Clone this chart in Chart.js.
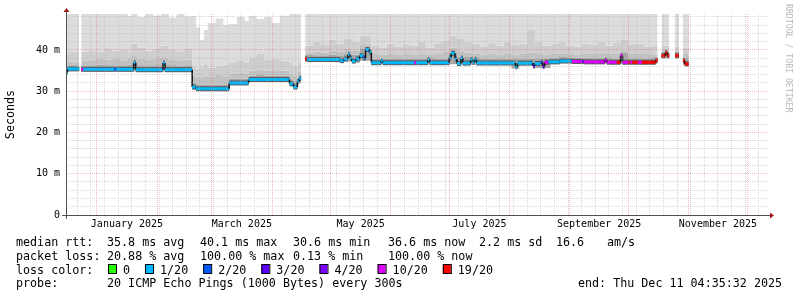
<!DOCTYPE html>
<html>
<head>
<meta charset="utf-8">
<script src="https://cdn.jsdelivr.net/npm/chart.js@4.4.1/dist/chart.umd.min.js"></script>
<style>
html, body { margin: 0; padding: 0; background: #fff; }
#chart { display: block; }
</style>
</head>
<body>
<canvas id="chart" width="797" height="297"></canvas>
<script>
// smoke (ms): each value holds from its date until the next date, null = no data
const smokeDates = [
  '2024-12-16','2024-12-17','2024-12-23','2024-12-24','2024-12-28','2025-01-01','2025-01-05','2025-01-09',
  '2025-01-13','2025-01-17','2025-01-19','2025-01-22','2025-01-26','2025-01-30','2025-02-03','2025-02-07',
  '2025-02-11','2025-02-15','2025-02-19','2025-02-21','2025-02-23','2025-02-25','2025-02-27','2025-03-03',
  '2025-03-07','2025-03-10','2025-03-14','2025-03-18','2025-03-20','2025-03-24','2025-03-28','2025-04-01',
  '2025-04-05','2025-04-10','2025-04-12','2025-04-14','2025-04-16','2025-04-18','2025-04-22','2025-04-26',
  '2025-04-30','2025-05-04','2025-05-08','2025-05-12','2025-05-16','2025-05-22','2025-05-26','2025-05-30',
  '2025-06-03','2025-06-07','2025-06-11','2025-06-15','2025-06-19','2025-06-23','2025-06-27','2025-07-01',
  '2025-07-05','2025-07-09','2025-07-13','2025-07-17','2025-07-21','2025-07-25','2025-07-29','2025-08-02',
  '2025-08-06','2025-08-10','2025-08-14','2025-08-18','2025-08-22','2025-08-26','2025-08-30','2025-09-03',
  '2025-09-07','2025-09-11','2025-09-15','2025-09-19','2025-09-23','2025-09-27','2025-10-01','2025-10-05',
  '2025-10-09','2025-10-13','2025-10-16','2025-10-18','2025-10-22','2025-10-25','2025-10-27','2025-10-29',
  '2025-11-01'
];
const smokeMin = [
  34.3,34.9,null,34.8,34.8,34.8,34.8,34.8, 34.8,34.8,34.8,34.7,34.7,34.7,34.7,34.7,
  34.7,34.7,30.4,30.1,30.1,30.1,30.1,30.1, 30.1,31.5,31.5,31.5,32.3,32.3,32.3,32.3,
  32.3,31.3,30.5,31.9,null,37.3,37.2,37.2, 37.2,37.0,37.2,36.9,37.4,36.4,36.4,36.4,
  36.4,36.4,36.4,36.4,36.4,36.4,36.4,36.5, 36.3,36.4,36.4,36.4,36.4,36.4,36.4,35.5,
  36.4,36.4,35.6,35.6,36.6,36.8,36.8,36.7, 36.6,36.6,36.6,36.6,36.6,36.6,36.6,36.6,
  36.6,36.6,null,38.0,null,38.0,null,36.2, null
];
const smokeMid = [
  35.8,36.3,null,36.3,36.3,36.4,36.3,36.3, 36.3,36.4,36.8,36.3,36.3,36.3,36.5,36.3,
  36.2,36.3,31.9,31.6,31.6,31.7,31.6,31.6, 31.7,33.0,33.0,33.0,33.8,33.9,33.8,33.8,
  33.8,32.9,32.2,33.4,null,38.8,38.7,38.7, 38.8,38.7,39.2,38.8,40.4,37.9,37.9,37.9,
  37.8,37.9,37.8,37.9,38.2,37.9,37.9,39.4, 38.4,38.3,38.2,37.8,37.9,37.8,37.9,37.8,
  37.9,37.9,37.8,38.0,38.1,38.3,38.2,38.1, 38.1,38.0,38.1,38.2,38.0,39.3,38.0,38.0,
  38.0,38.2,null,39.6,null,39.6,null,38.2, null
];
const smokeInner = [
  36.8,37.2,null,37.5,37.6,37.8,37.6,37.8, 37.5,37.9,38.5,37.8,37.6,37.8,38.2,37.6,
  37.5,37.6,33.6,33.5,33.4,33.8,33.5,33.9, 33.6,34.2,34.5,34.3,35.0,35.2,35.0,35.1,
  35.0,34.2,33.8,34.8,null,39.4,39.6,39.3, 39.8,39.5,40.2,39.8,41.2,39.0,38.8,39.2,
  38.8,39.0,38.9,39.2,38.8,39.0,39.5,40.5, 39.8,39.3,39.0,38.8,39.2,38.9,39.0,38.8,
  39.0,39.3,39.0,38.8,39.0,39.2,39.0,38.9, 39.2,39.0,39.3,39.0,39.2,39.8,39.0,39.2,
  39.0,38.9,null,40.0,null,39.8,null,39.0, null
];
const smokeUpper = [
  38.8,39.5,null,39.6,39.9,39.5,40.2,39.8, 40.0,39.6,41.5,40.6,39.8,40.3,41.0,40.0,
  39.7,40.2,36.0,35.5,35.8,36.5,35.6,36.2, 36.4,37.0,37.5,36.9,38.2,39.0,37.6,38.0,
  37.4,36.8,36.0,37.0,null,41.0,42.0,41.2, 42.5,41.5,42.8,42.0,43.5,41.0,40.6,41.5,
  40.8,41.2,41.0,42.0,40.6,41.6,42.3,43.5, 42.8,42.0,41.5,40.8,41.8,41.0,42.0,41.2,
  41.5,45.0,42.0,41.0,41.5,42.0,41.0,40.8, 41.5,41.2,42.0,41.0,41.8,42.5,41.2,41.5,
  40.8,41.0,null,41.0,null,40.8,null,40.5, null
];
const smokeMax = [
  48.7,48.7,null,48.7,48.7,48.7,48.7,48.7, 48.7,48.2,48.7,48.0,48.7,48.3,48.7,47.8,
  48.7,48.1,48.2,45.5,42.4,44.8,46.5,47.6, 46.0,46.3,48.0,47.0,48.2,47.5,48.0,46.5,
  48.3,48.7,48.7,48.7,null,48.7,48.7,48.7, 48.7,48.7,48.7,48.7,48.7,48.7,48.7,48.7,
  48.7,48.7,48.7,48.7,48.7,48.7,48.7,48.7, 48.7,48.7,48.7,48.7,48.7,48.7,48.7,48.7,
  48.7,48.7,48.7,48.7,48.7,48.7,48.7,48.7, 48.7,48.7,48.7,48.7,48.7,48.7,48.7,48.7,
  48.7,48.7,null,48.7,null,48.7,null,48.7, null
];

// median rtt (ms) and lost pings out of 20, held until the next date
const medianDates = [
  '2024-12-16','2024-12-17','2024-12-23','2024-12-24','2024-12-25','2025-01-10','2025-01-11','2025-01-20',
  '2025-01-21','2025-02-04','2025-02-05','2025-02-19','2025-02-21','2025-03-10','2025-03-20','2025-04-10',
  '2025-04-12','2025-04-14','2025-04-15','2025-04-16','2025-04-18','2025-04-19','2025-05-06','2025-05-08',
  '2025-05-10','2025-05-11','2025-05-12','2025-05-14','2025-05-16','2025-05-18','2025-05-19','2025-05-21',
  '2025-05-22','2025-05-27','2025-05-28','2025-06-13','2025-06-14','2025-06-20','2025-06-21','2025-07-01',
  '2025-07-02','2025-07-04','2025-07-05','2025-07-07','2025-07-08','2025-07-12','2025-07-13','2025-07-14',
  '2025-07-15','2025-08-04','2025-08-05','2025-08-13','2025-08-14','2025-08-17','2025-08-18','2025-08-19',
  '2025-08-21','2025-08-27','2025-09-02','2025-09-07','2025-09-08','2025-09-19','2025-09-20','2025-09-25',
  '2025-09-27','2025-09-28','2025-10-01','2025-10-02','2025-10-03','2025-10-06','2025-10-08','2025-10-15',
  '2025-10-16','2025-10-18','2025-10-20','2025-10-21','2025-10-22','2025-10-25','2025-10-27','2025-10-29',
  '2025-10-30','2025-11-01'
];
const medianRtt = [
  34.6,35.4,null,35.3,35.3,35.3,35.3,36.9, 35.2,36.8,35.2,31.0,30.6,32.0,32.8,31.8,
  31.0,32.4,33.1,null,37.8,37.7,37.4,37.8, 38.9,37.9,37.3,37.8,38.6,38.0,40.1,39.4,
  36.9,37.3,36.9,36.9,36.9,37.6,36.9,38.2, 39.2,37.8,36.7,38.0,36.8,37.6,37.0,37.7,
  36.8,35.9,36.8,36.1,36.7,37.0,36.0,37.0, 37.1,37.3,37.2,37.2,37.1,37.5,37.0,37.0,
  38.6,37.0,37.0,37.0,37.0,37.0,37.0,37.5, null,38.6,39.3,38.6,null,38.6,null,37.4,
  36.6,null
];
const medianLoss = [
  1,1,null,10,1,2,1,1, 1,1,1,1,1,1,1,1,
  1,1,1,null,19,1,1,1, 1,1,1,1,1,2,1,1,
  1,1,1,10,1,1,1,1, 1,1,1,1,1,1,1,1,
  1,1,1,3,1,2,3,10, 1,1,10,3,10,10,10,19,
  10,10,19,10,19,10,19,19, null,19,19,19,null,19,null,19,
  19,null
];

const lossSteps = [0, 1, 2, 3, 4, 10, 19];
const lossLabels = ['0', '1/20', '2/20', '3/20', '4/20', '10/20', '19/20'];
const lossColors = ['#26ff00', '#00b8ff', '#0059ff', '#5e00ff', '#7e00ff', '#dd00ff', '#ff0000'];

const monthLabelMonths = ['2025-01', '2025-03', '2025-05', '2025-07', '2025-09', '2025-11'];
const monthLabels = ['January 2025', 'March 2025', 'May 2025', 'July 2025', 'September 2025', 'November 2025'];
const yLabelValues = [0, 10, 20, 30, 40];
const yLabels = ['0', '10 m', '20 m', '30 m', '40 m'];

const rttStats = ['35.8 ms avg', '40.1 ms max', '30.6 ms min', '36.6 ms now', '2.2 ms sd', '16.6', 'am/s'];
const lossStats = ['20.88 % avg', '100.00 % max', '0.13 % min', '100.00 % now'];
const probeText = '20 ICMP Echo Pings (1000 Bytes) every 300s';
const endText = 'end: Thu Dec 11 04:35:32 2025';

const tStart = Date.UTC(2024, 11, 16, 4, 35, 32);
const tEnd = Date.UTC(2025, 11, 11, 4, 35, 32);
const DAY = 86400000;
const MONO = '"DejaVu Sans Mono", "Liberation Mono", monospace';
const GRID_MINOR = 'rgba(170, 170, 170, 0.45)';
const GRID_MAJOR = 'rgba(220, 90, 90, 0.4)';

const toTime = d => Date.parse(d + 'T00:00:00Z');

// turn "value holds until next date" into points for the line
function stepPoints(dates, values) {
  const pts = [];
  dates.forEach((d, i) => {
    const y = values[i];
    pts.push({ x: toTime(d), y: y, k: i });
    if (y !== null && i + 1 < dates.length) pts.push({ x: toTime(dates[i + 1]), y: y, k: i });
  });
  return pts;
}

const medianPts = stepPoints(medianDates, medianRtt);
const isFlat = c => medianPts[c.p0DataIndex].k === medianPts[c.p1DataIndex].k;
const lossColor = c => lossColors[lossSteps.indexOf(medianLoss[medianPts[c.p0DataIndex].k])];

// grid: weekly (sundays) and month starts
const gridTimes = [];
for (let t = Date.UTC(2024, 11, 22); t < tEnd; t += 7 * DAY) gridTimes.push(t);
for (let m = 0; m < 12; m++) {
  const t = Date.UTC(2025, m, 1);
  if (gridTimes.indexOf(t) < 0) gridTimes.push(t);
}
gridTimes.sort((a, b) => a - b);
const isMonthStart = v => new Date(v).getUTCDate() === 1 && new Date(v).getUTCHours() === 0;

const labelTimes = monthLabelMonths.map(m => {
  const a = toTime(m + '-01');
  const d = new Date(a);
  const b = Date.UTC(d.getUTCFullYear(), d.getUTCMonth() + 1, 1);
  return (a + b) / 2;
});

function smokeLayer(values, color, fill, order) {
  return {
    data: stepPoints(smokeDates, values),
    borderWidth: 0,
    borderColor: 'rgba(0,0,0,0)',
    backgroundColor: color,
    fill: fill,
    pointRadius: 0,
    order: order
  };
}

const decorations = {
  id: 'decorations',
  afterDraw(chart) {
    const { ctx, chartArea: a } = chart;
    ctx.save();
    // axes
    ctx.strokeStyle = '#505050';
    ctx.lineWidth = 1;
    ctx.beginPath();
    ctx.moveTo(a.left - 4, a.bottom + 0.5);
    ctx.lineTo(a.right + 4, a.bottom + 0.5);
    ctx.moveTo(a.left + 0.5, a.bottom + 4);
    ctx.lineTo(a.left + 0.5, a.top - 4);
    ctx.stroke();
    ctx.fillStyle = '#a01818';
    ctx.beginPath();
    ctx.moveTo(a.right + 3, a.bottom - 2.5);
    ctx.lineTo(a.right + 7, a.bottom + 0.5);
    ctx.lineTo(a.right + 3, a.bottom + 3.5);
    ctx.fill();
    ctx.beginPath();
    ctx.moveTo(a.left - 2.5, a.top - 2);
    ctx.lineTo(a.left + 0.5, a.top - 6);
    ctx.lineTo(a.left + 3.5, a.top - 2);
    ctx.fill();

    // watermark
    ctx.fillStyle = '#b8b8b8';
    ctx.font = '8.2px ' + MONO;
    ctx.textBaseline = 'middle';
    ctx.translate(788, 4);
    ctx.rotate(Math.PI / 2);
    ctx.fillText('RRDTOOL / TOBI OETIKER', 0, 0);
    ctx.restore();

    // legend
    ctx.save();
    ctx.fillStyle = '#000';
    ctx.font = '11.7px ' + MONO;
    ctx.textBaseline = 'alphabetic';
    const rows = [246, 259.5, 273.5, 286.5];
    const cols = [107, 200, 293, 388, 479, 556, 607];
    ctx.fillText('median rtt:', 16, rows[0]);
    rttStats.forEach((s, i) => ctx.fillText(s, cols[i], rows[0]));
    ctx.fillText('packet loss:', 16, rows[1]);
    lossStats.forEach((s, i) => ctx.fillText(s, cols[i], rows[1]));
    ctx.fillText('loss color:', 16, rows[2]);
    let x = 108;
    lossLabels.forEach((s, i) => {
      ctx.fillStyle = lossColors[i];
      ctx.fillRect(x, 264.5, 8, 9);
      ctx.strokeStyle = '#000';
      ctx.strokeRect(x + 0.5, 264.5, 8, 9);
      ctx.fillStyle = '#000';
      ctx.fillText(s, x + 15, rows[2]);
      x += 15 + ctx.measureText(s).width + 15;
    });
    ctx.fillText('probe:', 16, rows[3]);
    ctx.fillText(probeText, 107, rows[3]);
    ctx.fillText(endText, 578, rows[3]);
    ctx.restore();
  }
};

new Chart(document.getElementById('chart'), {
  type: 'line',
  data: {
    datasets: [
      smokeLayer(smokeMin, 'rgba(0,0,0,0)', false, 7),
      smokeLayer(smokeMid, '#a6a6a6', '-1', 6),
      smokeLayer(smokeInner, '#c1c1c1', '-1', 5),
      smokeLayer(smokeUpper, '#cecece', '-1', 4),
      smokeLayer(smokeMax, '#dcdcdc', '-1', 3),
      {
        data: medianPts,
        borderColor: '#555',
        borderWidth: 5,
        pointRadius: 0,
        fill: false,
        order: 1,
        segment: { borderColor: c => isFlat(c) ? '#5a5a5a' : 'rgba(0,0,0,0)' }
      },
      {
        data: medianPts,
        borderColor: '#00b8ff',
        borderWidth: 3,
        pointRadius: 0,
        fill: false,
        order: 0,
        segment: {
          borderColor: c => isFlat(c) ? lossColor(c) : '#111',
          borderWidth: c => isFlat(c) ? 3 : 1.5
        }
      }
    ]
  },
  options: {
    responsive: false,
    animation: false,
    devicePixelRatio: 1,
    events: [],
    layout: { padding: { top: 14, right: 30, left: 0, bottom: 0 } },
    plugins: { legend: { display: false }, tooltip: { enabled: false } },
    scales: {
      x: {
        type: 'linear',
        min: tStart,
        max: tEnd,
        position: 'bottom',
        afterBuildTicks: s => { s.ticks = gridTimes.map(v => ({ value: v })); },
        afterFit: s => { s.height = 0; },
        ticks: { display: false },
        grid: {
          drawTicks: false,
          z: 1,
          color: c => isMonthStart(c.tick.value) ? GRID_MAJOR : GRID_MINOR
        },
        border: { display: false, dash: [1, 1] }
      },
      x2: {
        type: 'linear',
        min: tStart,
        max: tEnd,
        position: 'bottom',
        afterBuildTicks: s => { s.ticks = labelTimes.map(v => ({ value: v })); },
        afterFit: s => { s.height = 82; },
        ticks: {
          autoSkip: false,
          maxRotation: 0,
          padding: 3,
          color: '#000',
          font: { family: MONO, size: 10 },
          callback: (v, i) => monthLabels[i]
        },
        grid: { display: false, drawTicks: false },
        border: { display: false }
      },
      y: {
        min: 0,
        max: 48.7,
        afterBuildTicks: s => {
          const t = [];
          for (let v = 0; v <= 48; v += 2) t.push({ value: v });
          s.ticks = t;
        },
        afterFit: s => { s.width = 66; },
        ticks: {
          autoSkip: false,
          padding: 6,
          color: '#000',
          font: { family: MONO, size: 10 },
          callback: v => {
            const i = yLabelValues.indexOf(v);
            return i < 0 ? '' : yLabels[i];
          }
        },
        grid: {
          drawTicks: false,
          z: 1,
          color: c => c.tick.value % 10 === 0 ? GRID_MAJOR : GRID_MINOR
        },
        border: { display: false, dash: [1, 1] },
        title: {
          display: true,
          text: 'Seconds',
          color: '#000',
          font: { family: MONO, size: 11.7 },
          padding: { top: 4, bottom: 0 }
        }
      }
    }
  },
  plugins: [decorations]
});
</script>
</body>
</html>
